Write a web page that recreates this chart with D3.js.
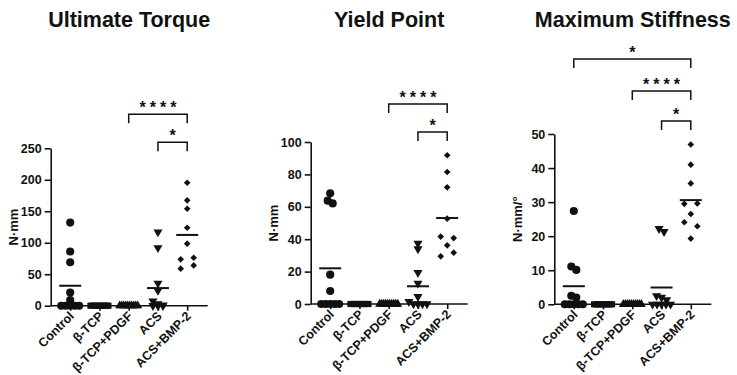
<!DOCTYPE html>
<html>
<head>
<meta charset="utf-8">
<script src="https://cdn.jsdelivr.net/npm/d3@7"></script>
<style>
  body { margin: 0; background: #fff; }
  svg text { font-family: "Liberation Sans", Arial, sans-serif; font-weight: bold; fill: #111; }
</style>
</head>
<body>
<svg id="chart" width="737" height="375"></svg>
<script>
const categories = ["Control", "β-TCP", "β-TCP+PDGF", "ACS", "ACS+BMP-2"];
const titles = ["Ultimate Torque", "Yield Point", "Maximum Stiffness"];
const yLabels = ["N·mm", "N·mm", "N·mm/°"];

// one list per group, same order as categories
const torque = [
    [132, 86, 69, 21, 9, 0, 0, 0, 0, 0],
    [0, 0, 0, 0, 0, 0, 0, 0, 0, 0],
    [0, 0, 0, 0, 0, 0, 0, 0, 0, 0],
    [117, 92, 35.5, 24, 7.4, 3, 1, 0, 0, 0],
    [195.3, 167.3, 154, 123.9, 98.5, 73.6, 76.2, 58.8, 64]
];
const yieldPoint = [
    [68.3, 63.8, 62.1, 18.1, 8, 0, 0, 0, 0, 0],
    [0, 0, 0, 0, 0, 0, 0, 0, 0, 0],
    [0, 0, 0, 0, 0, 0, 0, 0, 0, 0],
    [37.4, 34, 19.3, 12.8, 4.5, 1.4, 0, 0, 0, 0],
    [91.8, 81.5, 72, 52.7, 41.6, 40.7, 36.2, 29.4, 31.7]
];
const stiffness = [
    [27.4, 11.1, 10.1, 2.5, 2, 0, 0, 0, 0, 0],
    [0, 0, 0, 0, 0, 0, 0, 0, 0, 0],
    [0, 0, 0, 0, 0, 0, 0, 0, 0, 0],
    [22.2, 21.3, 2.5, 2, 1.3, 0, 0, 0, 0, 0],
    [46.9, 41, 35.5, 29.5, 29.6, 26.5, 24.1, 22.9, 19.3]
];

const torqueTicks = [0, 50, 100, 150, 200, 250];
const yieldTicks = [0, 20, 40, 60, 80, 100];
const stiffTicks = [0, 10, 20, 30, 40, 50];

const torqueStats = [["ACS", "ACS+BMP-2", "*"], ["β-TCP+PDGF", "ACS+BMP-2", "****"]];
const yieldStats = [["ACS", "ACS+BMP-2", "*"], ["β-TCP+PDGF", "ACS+BMP-2", "****"]];
const stiffStats = [["ACS", "ACS+BMP-2", "*"], ["β-TCP+PDGF", "ACS+BMP-2", "****"], ["Control", "ACS+BMP-2", "*"]];

// layout of the three panels
const panels = [
    { title: titles[0], label: yLabels[0], values: torque, ticks: torqueTicks, stats: torqueStats,
      left: 50.7, top: 148.3, bottom: 305.7, levels: [6, 34] },
    { title: titles[1], label: yLabels[1], values: yieldPoint, ticks: yieldTicks, stats: yieldStats,
      left: 310.7, top: 142, bottom: 304, levels: [10, 38] },
    { title: titles[2], label: yLabels[2], values: stiffness, ticks: stiffTicks, stats: stiffStats,
      left: 554.3, top: 134, bottom: 304.3, levels: [13, 43, 75] }
];

const shapes = [d3.symbolCircle, d3.symbolSquare, d3.symbolTriangle, d3.symbolTriangle, d3.symbolSquare];
const sizes = [52, 38, 36, 36, 22];
const turns = [0, 0, 0, 180, 45];
const pairGap = [5, 5, 5, 5, 13];

const svg = d3.select("#chart");

// spread points that sit on (nearly) the same height
function spread(vals, y, gap) {
    const pts = vals.map((v, i) => ({ v, i, py: y(v) })).sort((a, b) => a.py - b.py || a.i - b.i);
    const out = [];
    let cluster = [];
    const flush = () => {
        cluster.sort((a, b) => a.i - b.i);
        const n = cluster.length;
        const step = n > 1 ? Math.min(gap, 18 / (n - 1)) : 0;
        cluster.forEach((d, k) => out.push({ v: d.v, py: d.py, dx: (k - (n - 1) / 2) * step }));
        cluster = [];
    };
    pts.forEach(d => {
        if (cluster.length && d.py - cluster[0].py > 4.5) flush();
        cluster.push(d);
    });
    flush();
    return out;
}

panels.forEach(p => {
    const g = svg.append("g");

    const y = d3.scaleLinear()
        .domain([0, d3.max(p.ticks)])
        .range([p.bottom, p.top]);

    const x = d3.scalePoint()
        .domain(categories)
        .range([p.left + 19.5, p.left + 136.5]);

    const right = p.left + 157;

    g.append("text")
        .attr("x", (p.left + right) / 2)
        .attr("y", 27)
        .attr("text-anchor", "middle")
        .style("font-size", "21.5px")
        .text(p.title);

    // y axis
    const yAxis = g.append("g")
        .attr("transform", `translate(${p.left},0)`)
        .call(d3.axisLeft(y).tickValues(p.ticks).tickSize(6).tickSizeOuter(0).tickPadding(3));
    yAxis.selectAll("path, line").attr("stroke", "#111").attr("stroke-width", 1.6);
    yAxis.selectAll("text").style("font-size", "12.5px");

    g.append("text")
        .attr("transform", `translate(${p.left - 37},${(p.top + p.bottom) / 2}) rotate(-90)`)
        .attr("text-anchor", "middle")
        .attr("dy", "0.35em")
        .style("font-size", "13px")
        .text(p.label);

    // x axis
    g.append("line")
        .attr("x1", p.left).attr("x2", right)
        .attr("y1", y(0)).attr("y2", y(0))
        .attr("stroke", "#111").attr("stroke-width", 1.6);

    const xAxis = g.append("g")
        .attr("transform", `translate(0,${y(0)})`)
        .call(d3.axisBottom(x).tickSize(5).tickSizeOuter(0));
    xAxis.select(".domain").remove();
    xAxis.selectAll("line").attr("stroke", "#111").attr("stroke-width", 1.6);
    xAxis.selectAll("text")
        .attr("x", 0).attr("y", 0).attr("dy", "0.35em")
        .attr("transform", "translate(1,8) rotate(-45)")
        .attr("text-anchor", "end")
        .style("font-size", "12.5px");

    // points and means
    p.values.forEach((vals, ci) => {
        const cx = x(categories[ci]);
        const sym = d3.symbol().type(shapes[ci]).size(sizes[ci]);
        g.append("g").selectAll("path")
            .data(spread(vals, y, pairGap[ci]))
            .enter()
            .append("path")
            .attr("d", sym)
            .attr("transform", d => `translate(${cx + d.dx},${d.py}) rotate(${turns[ci]})`)
            .attr("fill", "#111");

        const m = d3.mean(vals);
        g.append("line")
            .attr("x1", cx - 11).attr("x2", cx + 11)
            .attr("y1", y(m)).attr("y2", y(m))
            .attr("stroke", "#111").attr("stroke-width", 2);
    });

    // significance brackets
    p.stats.forEach((s, i) => {
        const yb = p.top - p.levels[i];
        const x1 = x(s[0]), x2 = x(s[1]);
        g.append("path")
            .attr("d", `M${x1},${yb + 9}V${yb}H${x2}V${yb + 9}`)
            .attr("fill", "none")
            .attr("stroke", "#111")
            .attr("stroke-width", 1.5);
        g.append("text")
            .attr("x", (x1 + x2) / 2 + 2)
            .attr("y", yb - 1)
            .attr("text-anchor", "middle")
            .style("font-size", "16px")
            .style("letter-spacing", "4px")
            .text(s[2]);
    });
});
</script>
</body>
</html>
